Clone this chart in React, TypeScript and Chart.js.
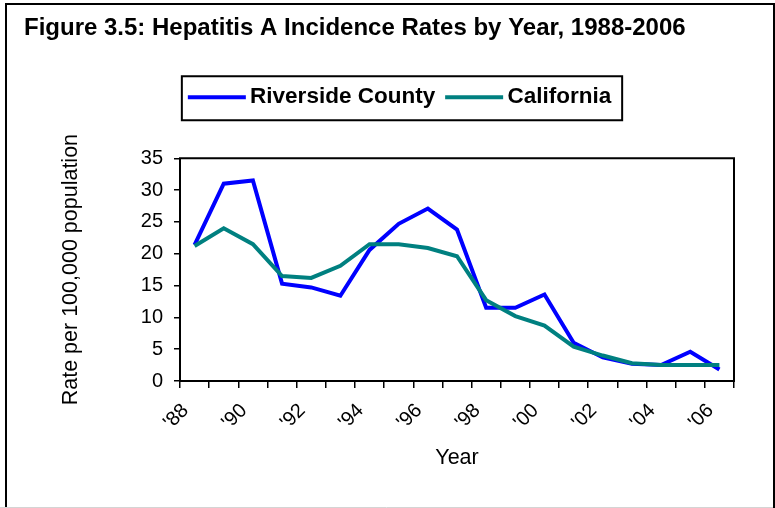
import React, { useEffect, useRef } from "react";
import { Chart, registerables } from "chart.js";

Chart.register(...registerables);

const categories = ["'88", "'89", "'90", "'91", "'92", "'93", "'94", "'95", "'96", "'97", "'98", "'99", "'00", "'01", "'02", "'03", "'04", "'05", "'06"];
const riverside = [21.4, 31.0, 31.5, 15.3, 14.7, 13.4, 20.6, 24.7, 27.1, 23.8, 11.5, 11.5, 13.6, 6.0, 3.7, 2.7, 2.5, 4.6, 1.8];
const california = [21.2, 24.0, 21.5, 16.5, 16.2, 18.1, 21.5, 21.5, 20.9, 19.6, 12.7, 10.2, 8.7, 5.4, 4.0, 2.8, 2.5, 2.5, 2.5];
const seriesNames = ["Riverside County", "California"];
const seriesColors = ["#0000FF", "#008080"];
const titleText = "Figure 3.5: Hepatitis A Incidence Rates by Year, 1988-2006";
const yTitle = "Rate per 100,000 population";
const xTitle = "Year";

const FONT = "'Liberation Sans', Arial, Helvetica, sans-serif";

const decorPlugin = {
  id: "decor",
  beforeDraw(chart: any) {
    const ctx = chart.ctx;
    ctx.save();
    ctx.fillStyle = "#ffffff";
    ctx.fillRect(0, 0, chart.width, chart.height);
    ctx.strokeStyle = "#000000";
    ctx.lineWidth = 2;
    ctx.beginPath();
    ctx.moveTo(6, 520);
    ctx.lineTo(6, 4);
    ctx.lineTo(774, 4);
    ctx.lineTo(774, 520);
    ctx.stroke();
    ctx.strokeStyle = "#d4d4d4";
    ctx.lineWidth = 1;
    ctx.beginPath();
    ctx.moveTo(0, 507.5);
    ctx.lineTo(773, 507.5);
    ctx.stroke();
    ctx.restore();
  },
  beforeDatasetsDraw(chart: any) {
    const { ctx, chartArea } = chart;
    ctx.save();
    ctx.strokeStyle = "#000000";
    ctx.lineWidth = 2;
    ctx.strokeRect(chartArea.left, chartArea.top, chartArea.right - chartArea.left, chartArea.bottom - chartArea.top);
    ctx.restore();
  },
  afterDraw(chart: any) {
    const legend = chart.legend;
    if (!legend || !legend.legendHitBoxes || !legend.legendHitBoxes.length) return;
    const hb = legend.legendHitBoxes;
    const ctx = chart.ctx;
    const first = hb[0];
    const last = hb[hb.length - 1];
    const cy = first.top + first.height / 2;
    ctx.save();
    ctx.strokeStyle = "#000000";
    ctx.lineWidth = 2;
    const left = first.left - 6;
    const right = last.left + last.width + 11;
    ctx.strokeRect(left, cy - 21, right - left, 44);
    ctx.lineWidth = 4;
    hb.forEach((b: any, i: number) => {
      ctx.strokeStyle = seriesColors[i];
      ctx.beginPath();
      ctx.moveTo(b.left, cy);
      ctx.lineTo(b.left + 58, cy);
      ctx.stroke();
    });
    ctx.restore();
  },
};

export default function App() {
  const ref = useRef<HTMLCanvasElement | null>(null);
  useEffect(() => {
    if (!ref.current) return;
    Chart.defaults.font.family = FONT;
    Chart.defaults.color = "#000000";
    const chart = new Chart(ref.current, {
      type: "line",
      data: {
        labels: categories,
        datasets: [
          {
            label: seriesNames[0],
            data: riverside,
            borderColor: seriesColors[0],
            backgroundColor: seriesColors[0],
            borderWidth: 4,
            pointRadius: 0,
            tension: 0,
            order: 1,
          },
          {
            label: seriesNames[1],
            data: california,
            borderColor: seriesColors[1],
            backgroundColor: seriesColors[1],
            borderWidth: 4,
            pointRadius: 0,
            tension: 0,
            order: 0,
          },
        ],
      },
      options: {
        animation: false,
        responsive: false,
        maintainAspectRatio: false,
        layout: { padding: { left: 24, right: 0, top: 0, bottom: 0 } },
        plugins: {
          tooltip: { enabled: false },
          title: {
            display: true,
            text: titleText,
            align: "start",
            color: "#000000",
            font: { family: FONT, size: 24, weight: "bold", lineHeight: 1 },
            padding: { top: 16, bottom: 36 },
          },
          legend: {
            display: true,
            position: "top",
            labels: {
              boxWidth: 51,
              boxHeight: 4,
              padding: 10,
              color: "#000000",
              font: { family: FONT, size: 22.5, weight: "bold", lineHeight: 1 },
              generateLabels: (chart: any) =>
                chart.data.datasets.map((ds: any, i: number) => ({
                  text: ds.label,
                  fillStyle: "rgba(0,0,0,0)",
                  strokeStyle: "rgba(0,0,0,0)",
                  lineWidth: 0,
                  hidden: false,
                  datasetIndex: i,
                })),
            },
          },
        },
        scales: {
          x: {
            type: "category",
            position: "bottom",
            offset: true,
            grid: { offset: true, drawOnChartArea: false, drawTicks: true, tickLength: 7, color: "#000000", lineWidth: 1.5 },
            border: { display: false },
            ticks: {
              autoSkip: false,
              maxRotation: 45,
              minRotation: 45,
              padding: 11,
              labelOffset: -9,
              color: "#000000",
              font: { family: FONT, size: 20 },
              callback: (_v: any, i: number) => (i % 2 === 0 ? categories[i] : ""),
            },
            title: {
              display: true,
              text: xTitle,
              color: "#000000",
              font: { family: FONT, size: 21.5, lineHeight: 1 },
              padding: { top: 0, bottom: 39 },
            },
            afterFit: (s: any) => {
              s.height = 127;
            },
          },
          xTop: {
            type: "linear",
            axis: "x",
            position: "top",
            display: true,
            ticks: { display: false },
            grid: { display: false },
            border: { display: false },
            afterFit: (s: any) => {
              s.height = 39.75;
            },
          },
          y: {
            type: "linear",
            position: "left",
            min: 0,
            max: 35,
            grid: { drawOnChartArea: false, drawTicks: true, tickLength: 6, color: "#000000", lineWidth: 1.5 },
            border: { display: false },
            ticks: {
              stepSize: 5,
              padding: 11,
              color: "#000000",
              font: { family: FONT, size: 20 },
            },
            title: {
              display: true,
              text: yTitle,
              color: "#000000",
              font: { family: FONT, size: 21.5, lineHeight: 1 },
              padding: { top: 36, bottom: 0 },
            },
            afterFit: (s: any) => {
              s.width = 156;
            },
          },
          yRight: {
            type: "linear",
            position: "right",
            display: true,
            ticks: { display: false },
            grid: { display: false },
            border: { display: false },
            afterFit: (s: any) => {
              s.width = 41;
            },
          },
        },
      },
      plugins: [decorPlugin],
    } as any);
    return () => chart.destroy();
  }, []);
  return (
    <div style={{ position: "absolute", left: 0, top: 0, width: 775, height: 508, background: "#ffffff" }}>
      <canvas ref={ref} width={775} height={508} style={{ display: "block", width: 775, height: 508 }} />
    </div>
  );
}
